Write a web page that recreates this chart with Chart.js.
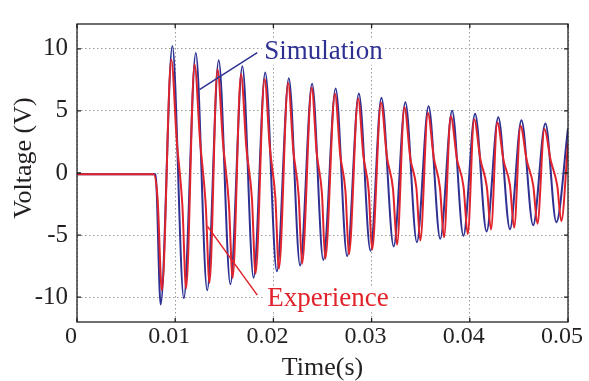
<!DOCTYPE html>
<html>
<head>
<meta charset="utf-8">
<script src="https://cdn.jsdelivr.net/npm/chart.js@4.4.1/dist/chart.umd.min.js"></script>
<style>
  html, body { margin: 0; padding: 0; background: #fff; }
  #wrap { width: 589px; height: 381px; }
</style>
</head>
<body>
<div id="wrap"><canvas id="voltChart" width="589" height="381"></canvas></div>
<script>
const xTicks = [0, 0.01, 0.02, 0.03, 0.04, 0.05];
const yTicks = [-10, -5, 0, 5, 10];

// Simulation (blue): flat, then peaks / troughs
const simTime = [0, 0.0080, 0.00852, 0.00971, 0.01088, 0.0121, 0.01326, 0.01443, 0.01562, 0.01684, 0.01798,
  0.01917, 0.02035, 0.02157, 0.02272, 0.02394, 0.02508, 0.02634, 0.02751, 0.0287, 0.02989, 0.031, 0.03225,
  0.03344, 0.03461, 0.0358, 0.03699, 0.0382, 0.03935, 0.04054, 0.04171, 0.0429, 0.04409, 0.04526, 0.04645,
  0.0477, 0.04881, 0.05];
const simVolt = [-0.1, -0.1, -10.6, 10.23, -10.08, 9.66, -9.45, 9.09, -8.96, 8.6, -8.44,
  8.1, -7.92, 7.64, -7.45, 7.19, -7.0, 6.8, -6.69, 6.4, -6.27, 6.07, -5.91,
  5.7, -5.57, 5.37, -5.3, 5.02, -5.05, 4.77, -4.71, 4.5, -4.53, 4.24, -4.2,
  3.98, -3.96, 3.6];

// Experience (red): peak, shoulder on the way down, late trough
const expTime = [0, 0.0078, 0.0082, 0.00865,
  0.0096, 0.01016, 0.01073, 0.01111,
  0.01197, 0.01253, 0.01311, 0.01349,
  0.0143, 0.01487, 0.01546, 0.01585,
  0.0167, 0.01725, 0.01781, 0.01818,
  0.0191, 0.01964, 0.0202, 0.02056,
  0.0215, 0.02203, 0.02257, 0.02292,
  0.0239, 0.02441, 0.02494, 0.02528,
  0.02627, 0.0268, 0.02734, 0.02769,
  0.02863, 0.02916, 0.0297, 0.03005,
  0.03096, 0.03156, 0.03218, 0.03259,
  0.03334, 0.03394, 0.03456, 0.03496,
  0.03573, 0.03634, 0.03696, 0.03737,
  0.03806, 0.0387, 0.03936, 0.03979,
  0.04044, 0.04108, 0.04173, 0.04216,
  0.0428, 0.04344, 0.04409, 0.04452,
  0.04516, 0.0458, 0.04646, 0.04689,
  0.0476, 0.04824, 0.0489, 0.04932,
  0.05];
const expVolt = [-0.1, -0.1, -2.0, -9.45,
  9.14, 2.6, -2.6, -9.3,
  8.75, 2.6, -2.6, -8.85,
  8.36, 2.4, -2.4, -8.45,
  7.97, 2.0, -2.0, -8.1,
  7.58, 2.0, -2.0, -7.7,
  7.24, 1.8, -1.8, -7.3,
  6.88, 1.6, -1.6, -6.9,
  6.38, 1.5, -1.5, -6.54,
  6.0, 1.4, -1.4, -6.17,
  5.65, 1.3, -1.3, -5.78,
  5.3, 1.2, -1.2, -5.44,
  4.84, 1.2, -1.2, -5.18,
  4.58, 1.1, -1.1, -4.92,
  4.32, 1.1, -1.1, -4.55,
  4.06, 1.0, -1.0, -4.4,
  3.8, 1.0, -1.0, -4.09,
  3.54, 1.0, -1.0, -3.88,
  2.4];

// callout labels, in data units
const simLabel = { text: 'Simulation', x: 0.01907, y: 9.77, from: [0.01836, 9.69], to: [0.01247, 6.72] };
const expLabel = { text: 'Experience', x: 0.01937, y: -10.16, from: [0.01836, -9.84], to: [0.01329, -4.3] };

const SERIF = "'Liberation Serif', 'Times New Roman', serif";
const INK = '#231f20';
const BLUE = '#2e3192';
const RED = '#e1232b';

function toPoints(ts, vs) {
  return ts.map((t, i) => ({ x: t, y: vs[i] }));
}

// box, inward ticks, callouts, y title
const decor = {
  id: 'decor',
  afterDatasetsDraw(chart) {
    const { ctx, chartArea: a, scales: { x, y } } = chart;
    ctx.save();
    ctx.strokeStyle = INK;
    ctx.lineWidth = 1.3;
    ctx.strokeRect(a.left, a.top, a.right - a.left, a.bottom - a.top);
    ctx.beginPath();
    xTicks.forEach(v => {
      const px = x.getPixelForValue(v);
      ctx.moveTo(px, a.bottom); ctx.lineTo(px, a.bottom - 4);
      ctx.moveTo(px, a.top); ctx.lineTo(px, a.top + 4);
    });
    yTicks.forEach(v => {
      const py = y.getPixelForValue(v);
      ctx.moveTo(a.left, py); ctx.lineTo(a.left + 4, py);
      ctx.moveTo(a.right, py); ctx.lineTo(a.right - 4, py);
    });
    ctx.stroke();

    ctx.font = `27px ${SERIF}`;
    ctx.textBaseline = 'middle';
    [[simLabel, BLUE], [expLabel, RED]].forEach(([lab, col]) => {
      const tx = x.getPixelForValue(lab.x), ty = y.getPixelForValue(lab.y);
      const w = ctx.measureText(lab.text).width;
      ctx.fillStyle = '#fff';
      ctx.fillRect(tx - 2, ty - 13, w + 4, 26);
      ctx.fillStyle = col;
      ctx.fillText(lab.text, tx, ty);
      ctx.strokeStyle = col;
      ctx.lineWidth = 1.5;
      ctx.beginPath();
      ctx.moveTo(x.getPixelForValue(lab.from[0]), y.getPixelForValue(lab.from[1]));
      ctx.lineTo(x.getPixelForValue(lab.to[0]), y.getPixelForValue(lab.to[1]));
      ctx.stroke();
    });

    ctx.font = `26px ${SERIF}`;
    ctx.translate(24, y.getPixelForValue(1.2));
    ctx.rotate(-Math.PI / 2);
    ctx.textAlign = 'center';
    ctx.fillStyle = INK;
    ctx.fillText('Voltage (V)', 0, 0);
    ctx.restore();
  }
};

new Chart(document.getElementById('voltChart'), {
  type: 'line',
  data: {
    datasets: [
      {
        label: 'Experience',
        data: toPoints(expTime, expVolt),
        borderColor: RED,
        borderWidth: 2,
        cubicInterpolationMode: 'monotone',
        pointRadius: 0,
        order: 0
      },
      {
        label: 'Simulation',
        data: toPoints(simTime, simVolt),
        borderColor: BLUE,
        borderWidth: 2,
        cubicInterpolationMode: 'monotone',
        pointRadius: 0,
        order: 1
      }
    ]
  },
  options: {
    responsive: false,
    animation: false,
    layout: { padding: { top: 14, right: 19, left: 0, bottom: 0 } },
    plugins: { legend: { display: false }, tooltip: { enabled: false } },
    scales: {
      x: {
        type: 'linear',
        min: 0, max: 0.05,
        afterBuildTicks: s => { s.ticks = xTicks.map(v => ({ value: v })); },
        afterFit: s => { s.height = 59; },
        ticks: {
          color: INK, font: { family: SERIF, size: 24 }, padding: 0, labelOffset: -6,
          maxRotation: 0, autoSkip: false, callback: v => String(v)
        },
        grid: { color: '#9a9a9a', lineWidth: 1, drawTicks: false },
        border: { display: false, dash: [1.5, 2.5] },
        title: { display: true, text: 'Time(s)', color: INK, font: { family: SERIF, size: 26, lineHeight: 1.2 }, padding: { top: 0, bottom: -3 } }
      },
      y: {
        min: -12, max: 12,
        afterBuildTicks: s => { s.ticks = yTicks.map(v => ({ value: v })); },
        afterFit: s => { s.width = 77; },
        ticks: { color: INK, font: { family: SERIF, size: 25 }, padding: 9, callback: v => String(v) },
        grid: { color: '#9a9a9a', lineWidth: 1, drawTicks: false },
        border: { display: false, dash: [1.5, 2.5] }
      }
    }
  },
  plugins: [decor]
});
</script>
</body>
</html>
